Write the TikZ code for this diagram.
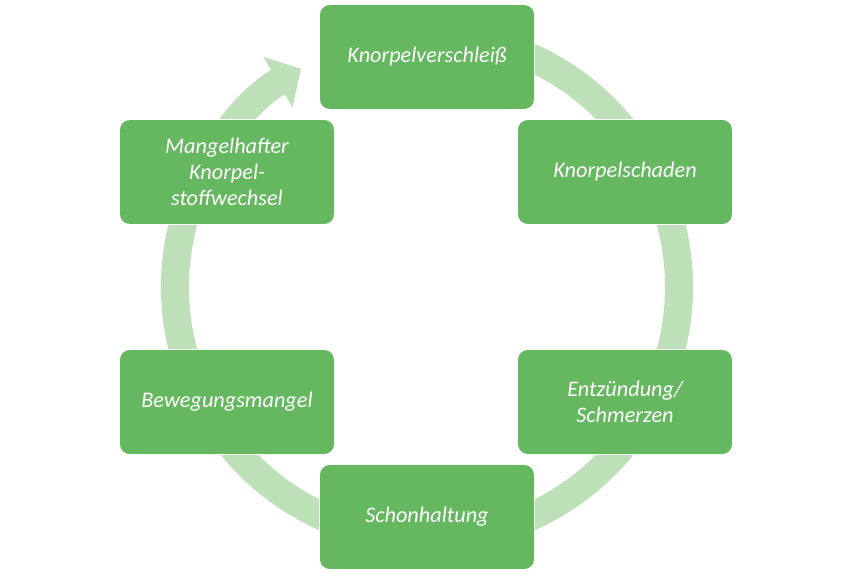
\documentclass[tikz,border=0pt]{standalone}
\usepackage{fontspec}
\setmainfont{Carlito}
\usetikzlibrary{arrows.meta,calc}
\definecolor{boxgreen}{HTML}{66B860}
\definecolor{ringgreen}{HTML}{BEE0B8}
\tikzset{
  stepbox/.style={draw=white,line width=0.8pt,fill=boxgreen,rounded corners=0.3cm,
    minimum width=6.45cm,minimum height=3.15cm,align=center,text=white,
    font=\fontsize{19}{22}\selectfont\itshape}
}
\begin{document}
\begin{tikzpicture}[x=0.03cm,y=0.03cm]
\useasboundingbox (0,0) rectangle (853,576);
% ring
\coordinate (C) at (427,289);
\draw[ringgreen,line width=0.84cm,-{Triangle[width=1.7cm,length=0.8cm]}]
  ($(C)+(72:252)$) arc[start angle=72,end angle=-240,radius=252];
% steps
\node[stepbox] (verschleiss) at (427,519) {Knorpelverschleiß};
\node[stepbox] (schaden) at (625,404) {Knorpelschaden};
\node[stepbox] (entzuendung) at (625,174) {Entzündung/\\Schmerzen};
\node[stepbox] (schon) at (427,59) {Schonhaltung};
\node[stepbox] (bewegung) at (227,174) {Bewegungsmangel};
\node[stepbox] (stoffwechsel) at (227,404) {Mangelhafter\\Knorpel-\\stoffwechsel};
\end{tikzpicture}
\end{document}
